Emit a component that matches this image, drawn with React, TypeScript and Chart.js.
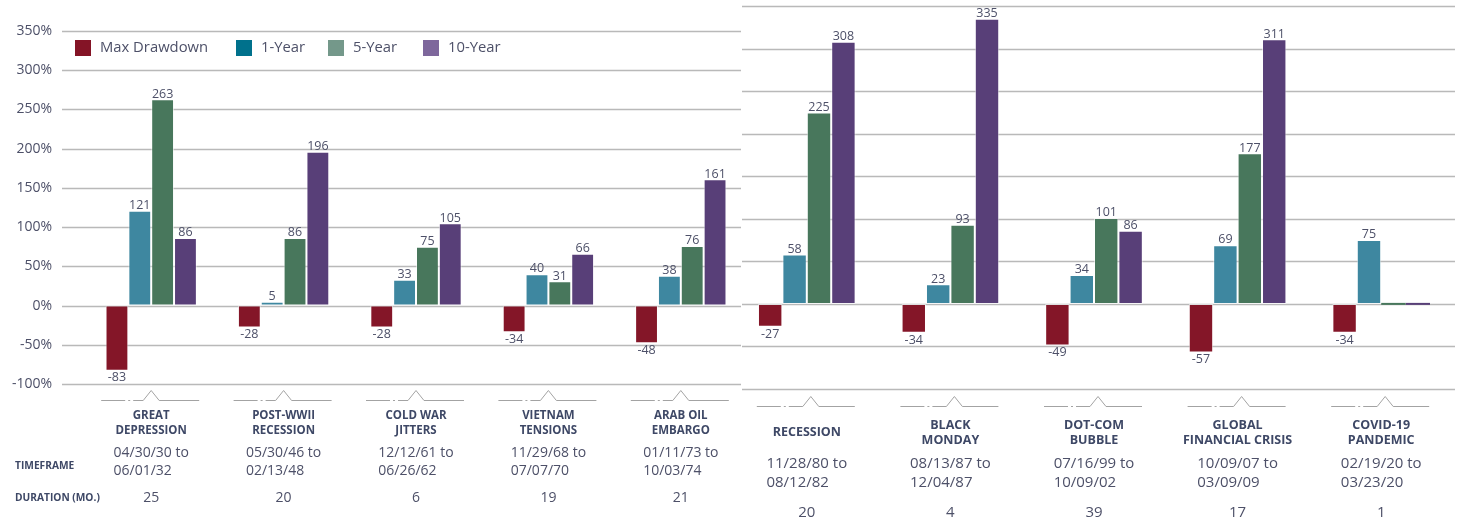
import React, { useEffect, useRef } from "react";
import { Chart, registerables } from "chart.js";

Chart.register(...registerables);

// ---------- shared ----------
const seriesNames = ["Max Drawdown", "1-Year", "5-Year", "10-Year"];
const barColors = ["#841628", "#3e87a0", "#48775c", "#583f78"];
const legendColors = ["#841426", "#00718c", "#74988a", "#7e679c"];
const yTicks = [350, 300, 250, 200, 150, 100, 50, 0, -50, -100];
const yTickLabels = ["350%", "300%", "250%", "200%", "150%", "100%", "50%", "0%", "-50%", "-100%"];
const rowLabels = ["TIMEFRAME", "DURATION (MO.)"];

// ---------- left panel ----------
const leftCategories = [
  ["GREAT", "DEPRESSION"],
  ["POST-WWII", "RECESSION"],
  ["COLD WAR", "JITTERS"],
  ["VIETNAM", "TENSIONS"],
  ["ARAB OIL", "EMBARGO"],
];
const leftStart = ["04/30/30", "05/30/46", "12/12/61", "11/29/68", "01/11/73"];
const leftEnd = ["06/01/32", "02/13/48", "06/26/62", "07/07/70", "10/03/74"];
const leftDuration = ["25", "20", "6", "19", "21"];
const leftMaxDrawdown = [-83, -28, -28, -34, -48];
const leftOneYear = [121, 5, 33, 40, 38];
const leftFiveYear = [263, 86, 75, 31, 76];
const leftTenYear = [86, 196, 105, 66, 161];

// ---------- right panel ----------
const rightCategories = [
  ["RECESSION"],
  ["BLACK", "MONDAY"],
  ["DOT-COM", "BUBBLE"],
  ["GLOBAL", "FINANCIAL CRISIS"],
  ["COVID-19", "PANDEMIC"],
];
const rightStart = ["11/28/80", "08/13/87", "07/16/99", "10/09/07", "02/19/20"];
const rightEnd = ["08/12/82", "12/04/87", "10/09/02", "03/09/09", "03/23/20"];
const rightDuration = ["20", "4", "39", "17", "1"];
const rightMaxDrawdown = [-27, -34, -49, -57, -34];
const rightOneYear = [58, 23, 34, 69, 75];
const rightFiveYear = [225, 93, 101, 177, 0];
const rightTenYear = [308, 335, 86, 311, 0];

const FONT = "'Open Sans', 'Noto Sans', sans-serif";
const TEXT = "#4d5068";
const HEAD = "#3e4866";

type PanelCfg = {
  id: string;
  categories: string[][];
  start: string[];
  end: string[];
  duration: string[];
  gridX0: number;
  gridX1: number;
  showTicks: boolean;
  showLegend: boolean;
  decoY: number;
  caretOffset: number;
  nameY1: number;
  nameY2: number;
  nameSingleY: number;
  nameFont: number;
  dateY1: number;
  dateY2: number;
  dateFont: number;
  durY: number;
};

function makePlugin(cfg: PanelCfg) {
  return {
    id: "panel_" + cfg.id,
    beforeDatasetsDraw(chart: any) {
      const ctx = chart.ctx;
      const ys = chart.scales.y;
      ctx.save();
      ctx.strokeStyle = "#b9b9b9";
      ctx.lineWidth = 1.5;
      yTicks.forEach((v) => {
        const y = Math.round(ys.getPixelForValue(v)) + 0.5;
        ctx.beginPath();
        ctx.moveTo(cfg.gridX0, y);
        ctx.lineTo(cfg.gridX1, y);
        ctx.stroke();
      });
      ctx.restore();
    },
    afterDatasetsDraw(chart: any) {
      const ctx = chart.ctx;
      const ys = chart.scales.y;
      const xs = chart.scales.x;
      ctx.save();
      // value labels
      ctx.font = `12.5px ${FONT}`;
      ctx.fillStyle = TEXT;
      ctx.textAlign = "center";
      chart.data.datasets.forEach((ds: any, i: number) => {
        const meta = chart.getDatasetMeta(i);
        meta.data.forEach((el: any, j: number) => {
          const v = ds.data[j];
          if (v === 0) return;
          if (v > 0) {
            ctx.textBaseline = "bottom";
            ctx.fillText(String(v), el.x, el.y + 1);
          } else {
            ctx.textBaseline = "top";
            ctx.fillText(String(v), el.x, el.y + 1);
          }
        });
      });

      // y tick labels
      if (cfg.showTicks) {
        ctx.font = `14px ${FONT}`;
        ctx.textAlign = "right";
        ctx.textBaseline = "middle";
        yTicks.forEach((v, k) => {
          ctx.fillText(yTickLabels[k], 52, ys.getPixelForValue(v));
        });
        // row labels
        ctx.font = `bold 10.2px ${FONT}`;
        ctx.fillStyle = HEAD;
        ctx.textAlign = "left";
        ctx.fillText(rowLabels[0], 15, 466);
        ctx.fillText(rowLabels[1], 15, 498);
      }

      // legend
      if (cfg.showLegend) {
        const sx = [75, 236, 328, 423];
        ctx.font = `14.8px ${FONT}`;
        ctx.textAlign = "left";
        ctx.textBaseline = "middle";
        seriesNames.forEach((n, k) => {
          ctx.fillStyle = legendColors[k];
          ctx.fillRect(sx[k], 40, 16, 16);
          ctx.fillStyle = TEXT;
          ctx.fillText(n, sx[k] + 25, 48);
        });
      }

      // bottom category block
      cfg.categories.forEach((lines, j) => {
        const cx = xs.getPixelForValue(j);
        // decoration
        const dy = cfg.decoY + 0.5;
        const cc = cx + cfg.caretOffset;
        ctx.strokeStyle = "#a3a3a3";
        ctx.lineWidth = 1;
        ctx.setLineDash([24, 3, 2, 3, 200]);
        ctx.beginPath();
        ctx.moveTo(cx - 50, dy);
        ctx.lineTo(cc - 8, dy);
        ctx.stroke();
        ctx.setLineDash([]);
        ctx.beginPath();
        ctx.moveTo(cc - 8, dy);
        ctx.lineTo(cc, dy - 10);
        ctx.lineTo(cc + 8, dy);
        ctx.lineTo(cx + 48, dy);
        ctx.stroke();

        // names
        ctx.font = `bold ${cfg.nameFont}px ${FONT}`;
        ctx.fillStyle = HEAD;
        ctx.textAlign = "center";
        ctx.textBaseline = "middle";
        if (lines.length === 1) {
          ctx.fillText(lines[0], cx, cfg.nameSingleY);
        } else {
          ctx.fillText(lines[0], cx, cfg.nameY1);
          ctx.fillText(lines[1], cx, cfg.nameY2);
        }

        // dates
        ctx.font = `${cfg.dateFont}px ${FONT}`;
        ctx.fillStyle = TEXT;
        const l1 = cfg.start[j] + " to";
        const w1 = ctx.measureText(l1).width;
        const lx = cx - w1 / 2;
        ctx.textAlign = "left";
        ctx.fillText(l1, lx, cfg.dateY1);
        ctx.fillText(cfg.end[j], lx, cfg.dateY2);

        // duration
        ctx.textAlign = "center";
        ctx.fillText(cfg.duration[j], cx, cfg.durY);
      });
      ctx.restore();
    },
  };
}

function buildConfig(
  cfg: PanelCfg,
  series: number[][],
  padding: { left: number; right: number; top: number; bottom: number },
  catPct: number
): any {
  return {
    type: "bar",
    data: {
      labels: cfg.categories.map((c) => c.join(" ")),
      datasets: series.map((d, k) => ({
        label: seriesNames[k],
        data: d,
        backgroundColor: barColors[k],
        borderColor: "rgba(255,255,255,0.55)",
        borderWidth: (c: any) => (c.raw === 0 ? 0 : 1),
        borderSkipped: false,
        categoryPercentage: catPct,
        barPercentage: 1,
        minBarLength: 2,
      })),
    },
    options: {
      responsive: false,
      maintainAspectRatio: false,
      animation: false,
      layout: { padding },
      plugins: {
        legend: { display: false },
        tooltip: { enabled: false },
        title: { display: false },
      },
      scales: {
        x: { type: "category", display: false, offset: true, grid: { display: false } },
        y: { type: "linear", display: false, min: -100, max: 350, ticks: { stepSize: 50 } },
      },
    },
    plugins: [makePlugin(cfg)],
  };
}

const leftCfg: PanelCfg = {
  id: "left",
  categories: leftCategories,
  start: leftStart,
  end: leftEnd,
  duration: leftDuration,
  gridX0: 62,
  gridX1: 741,
  showTicks: true,
  showLegend: true,
  decoY: 400,
  caretOffset: 0,
  nameY1: 416,
  nameY2: 431,
  nameSingleY: 424,
  nameFont: 11.5,
  dateY1: 453,
  dateY2: 471,
  dateFont: 14,
  durY: 498,
};

const rightCfg: PanelCfg = {
  id: "right",
  categories: rightCategories,
  start: rightStart,
  end: rightEnd,
  duration: rightDuration,
  gridX0: 12,
  gridX1: 725,
  showTicks: false,
  showLegend: false,
  decoY: 406,
  caretOffset: 4,
  nameY1: 425,
  nameY2: 440,
  nameSingleY: 432,
  nameFont: 12.5,
  dateY1: 464,
  dateY2: 483,
  dateFont: 15,
  durY: 513,
};

export default function App() {
  const leftRef = useRef<HTMLCanvasElement>(null);
  const rightRef = useRef<HTMLCanvasElement>(null);

  useEffect(() => {
    const c1 = new Chart(
      leftRef.current as HTMLCanvasElement,
      buildConfig(
        leftCfg,
        [leftMaxDrawdown, leftOneYear, leftFiveYear, leftTenYear],
        { left: 85, right: 3, top: 31, bottom: 136 },
        0.69
      )
    );
    const c2 = new Chart(
      rightRef.current as HTMLCanvasElement,
      buildConfig(
        rightCfg,
        [rightMaxDrawdown, rightOneYear, rightFiveYear, rightTenYear],
        { left: 5, right: 9, top: 6, bottom: 131 },
        0.68
      )
    );
    return () => {
      c1.destroy();
      c2.destroy();
    };
  }, []);

  return (
    <div style={{ position: "absolute", left: 0, top: 0, width: 1462, height: 520, background: "#ffffff" }}>
      <canvas
        ref={leftRef}
        width={750}
        height={520}
        style={{ position: "absolute", left: 0, top: 0, width: 750, height: 520 }}
      />
      <canvas
        ref={rightRef}
        width={732}
        height={520}
        style={{ position: "absolute", left: 730, top: 0, width: 732, height: 520 }}
      />
    </div>
  );
}
